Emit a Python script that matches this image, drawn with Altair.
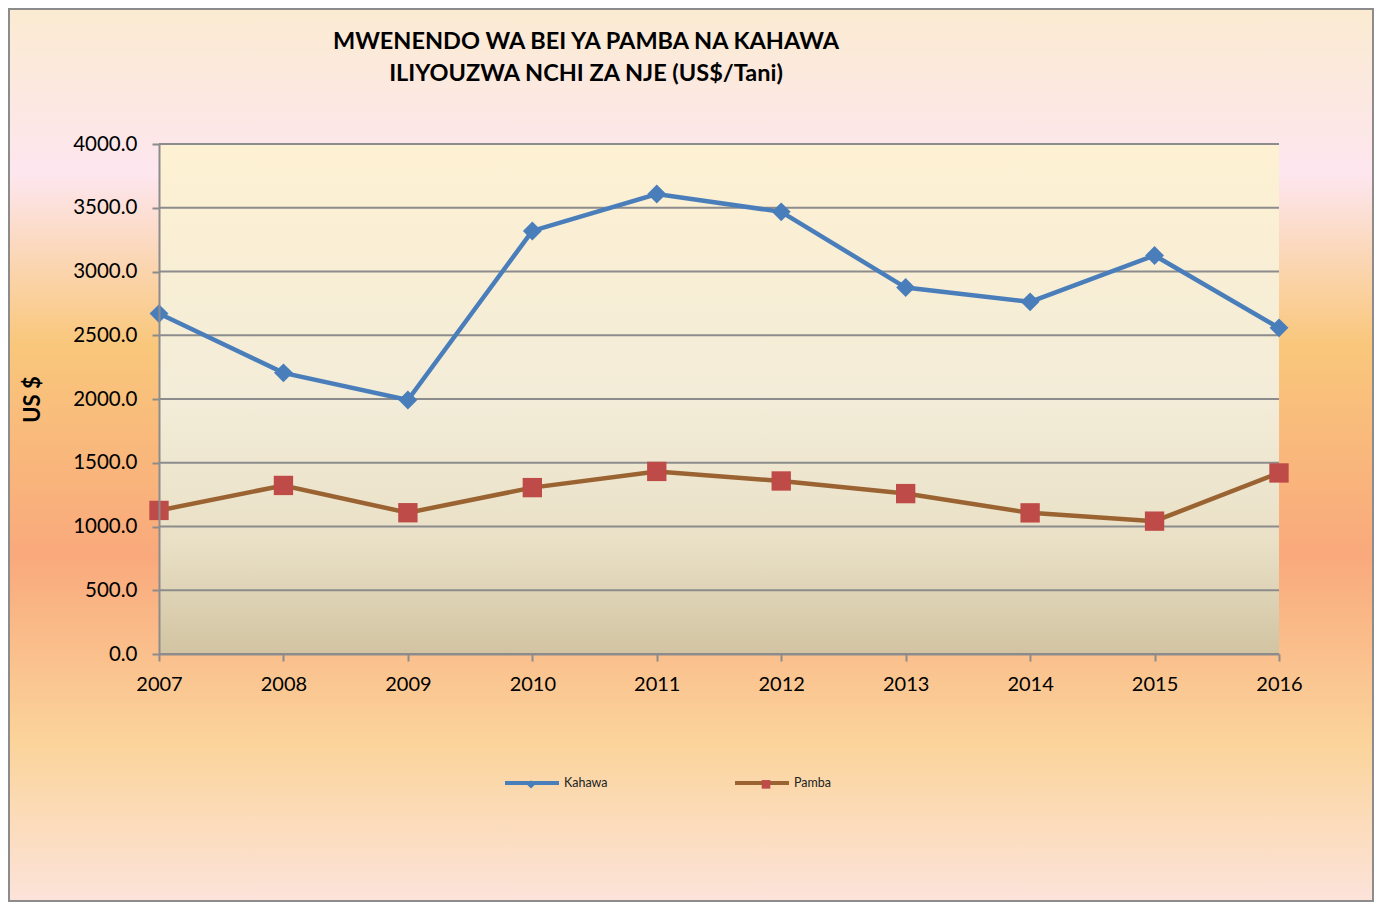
import altair as alt
import pandas as pd

# ---- data ----
years = [2007, 2008, 2009, 2010, 2011, 2012, 2013, 2014, 2015, 2016]
kahawa = [2670, 2205, 1992, 3318, 3608, 3468, 2874, 2762, 3126, 2558]
pamba = [1126, 1322, 1108, 1305, 1432, 1357, 1258, 1107, 1042, 1420]
series_names = ["Kahawa", "Pamba"]
line_colors = ["#4A7EBB", "#9A6331"]
marker_colors = ["#4A7EBB", "#BE4B48"]
y_ticks = [0, 500, 1000, 1500, 2000, 2500, 3000, 3500, 4000]
title_lines = ["MWENENDO WA BEI YA PAMBA NA KAHAWA", "ILIYOUZWA NCHI ZA NJE (US$/Tani)"]
y_title = "US $"

df = pd.DataFrame({
    "year": years * 2,
    "value": kahawa + pamba,
    "series": [series_names[0]] * len(years) + [series_names[1]] * len(years),
})
df["marker"] = df["series"]
grid_df = pd.DataFrame({"value": y_ticks})

W, H = 1120, 510
PAD_L, PAD_T = 151, 136
TOTAL_W, TOTAL_H = 1366, 894
FONT = "Lato"

y_scale = alt.Scale(domain=[0, 4000], nice=False, zero=True)
x_axis = alt.Axis(title=None, labelAngle=0, labelFont=FONT, labelFontSize=20,
                  labelColor="#000000", tickSize=7, tickColor="#8c8c8c",
                  tickWidth=2, domainColor="#8c8c8c", domainWidth=2,
                  labelPadding=13, grid=False, zindex=1)
y_axis = alt.Axis(title=y_title, titleFont=FONT, titleFontSize=22,
                  titleFontWeight="bold", titleColor="#000000", titlePadding=28,
                  values=y_ticks, format=".1f", labelFont=FONT, labelFontSize=20.5,
                  labelColor="#000000", tickSize=7, tickColor="#8c8c8c",
                  tickWidth=2, domainColor="#8c8c8c", domainWidth=2,
                  labelPadding=15, grid=False, zindex=1)
x_enc = alt.X("year:O", scale=alt.Scale(type="point", padding=0), axis=x_axis)
y_enc = alt.Y("value:Q", scale=y_scale, axis=y_axis)

bg_grad = alt.Gradient(
    gradient="linear", x1=0, y1=0, x2=0, y2=1,
    stops=[
        alt.GradientStop(offset=0.0, color="#FBEBD1"),
        alt.GradientStop(offset=0.185, color="#FDE6EF"),
        alt.GradientStop(offset=0.376, color="#F9C77B"),
        alt.GradientStop(offset=0.612, color="#F9A97C"),
        alt.GradientStop(offset=0.823, color="#FBD49B"),
        alt.GradientStop(offset=1.0, color="#FCE3DA"),
    ],
)
plot_grad = alt.Gradient(
    gradient="linear", x1=0, y1=0, x2=0, y2=1,
    stops=[
        alt.GradientStop(offset=0.0, color="#FEF1D3"),
        alt.GradientStop(offset=0.5, color="#F3ECD8"),
        alt.GradientStop(offset=0.78, color="#E9E0C6"),
        alt.GradientStop(offset=1.0, color="#D2C4A2"),
    ],
)

one = alt.Data(values=[{"k": 1}])

background = alt.Chart(one).mark_rect(fill=bg_grad, stroke="#8c8c8c", strokeWidth=2).encode(
    x=alt.value(-PAD_L + 1), x2=alt.value(TOTAL_W - PAD_L - 1),
    y=alt.value(-PAD_T + 1), y2=alt.value(TOTAL_H - PAD_T - 1),
)
plot_bg = alt.Chart(one).mark_rect(fill=plot_grad).encode(
    x=alt.value(0), x2=alt.value(W), y=alt.value(0), y2=alt.value(H),
)
grid = alt.Chart(grid_df).mark_rule(color="#8c8c8c", strokeWidth=2).encode(
    y=y_enc, x=alt.value(0), x2=alt.value(W),
)

title_style = dict(font=FONT, fontSize=23.5, fontWeight="bold", color="#000000",
                   align="center", baseline="middle")
title1 = alt.Chart(alt.Data(values=[{"t": title_lines[0]}])).mark_text(**title_style).encode(
    text="t:N", x=alt.value(427), y=alt.value(-102))
title2 = alt.Chart(alt.Data(values=[{"t": title_lines[1]}])).mark_text(**title_style).encode(
    text="t:N", x=alt.value(427), y=alt.value(-70))

base = alt.Chart(df)
lines = base.mark_line(strokeWidth=4.5).encode(
    x=x_enc, y=y_enc,
    stroke=alt.Stroke("series:N", scale=alt.Scale(range=line_colors),
                      legend=alt.Legend(title=None, orient="none", legendX=344, legendY=610,
                                        direction="horizontal", symbolType="stroke",
                                        symbolSize=2916, symbolStrokeWidth=4,
                                        labelFont=FONT, labelFontSize=12.5, labelColor="#222222",
                                        labelOffset=3, columnPadding=119, padding=0)),
)

diamond = "M0,-0.21L0.21,0L0,0.21L-0.21,0Z"
square = "M-0.215,-0.215L0.215,-0.215L0.215,0.215L-0.215,0.215Z"
marker_legend = alt.Legend(title=None, orient="none", legendX=351, legendY=619,
                           direction="horizontal", symbolSize=1600,
                           labelExpr="''", labelOffset=0, columnPadding=193, padding=0)
points = base.mark_point(filled=True, opacity=1, size=8100).encode(
    x=x_enc, y=y_enc,
    fill=alt.Fill("marker:N", scale=alt.Scale(range=marker_colors), legend=marker_legend),
    shape=alt.Shape("marker:N", scale=alt.Scale(range=[diamond, square]), legend=marker_legend),
)

chart = alt.layer(background, plot_bg, grid, lines, points, title1, title2).properties(
    width=W, height=H,
    autosize=alt.AutoSizeParams(type="none"),
    padding={"left": PAD_L, "top": PAD_T, "right": TOTAL_W - PAD_L - W, "bottom": TOTAL_H - PAD_T - H},
).configure_view(stroke=None).configure(background="#FBE3D0")

chart.save("out.html", embed_options={"renderer": "svg", "actions": False})
